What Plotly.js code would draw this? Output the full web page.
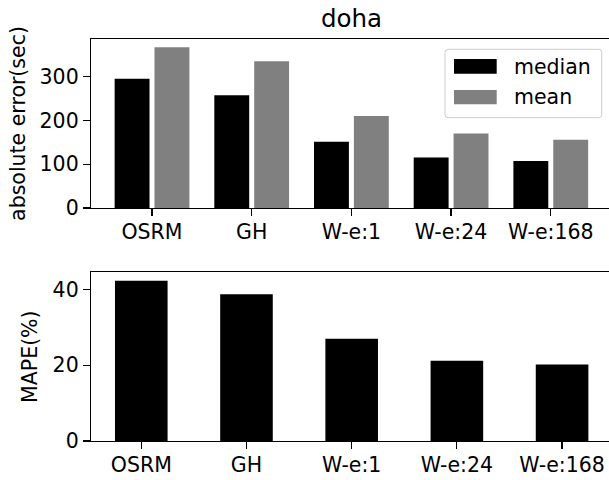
<!DOCTYPE html>
<html>
<head>
<meta charset="utf-8">
<script src="https://cdn.plot.ly/plotly-3.0.1.min.js"></script>
<style>html,body{margin:0;padding:0;background:#fff;overflow:hidden;}#chart{width:609px;height:480px;}</style>
</head>
<body>
<div id="chart"></div>
<script>
// ---- data ----
const categories = ['OSRM', 'GH', 'W-e:1', 'W-e:24', 'W-e:168'];
const medianErr = [295, 257, 151, 115, 107];
const meanErr = [367, 335, 210, 170, 156];
const mape = [42.3, 38.7, 27.0, 21.2, 20.2];
const seriesNames = ['median', 'mean'];
const chartTitle = 'doha';
const topYLabel = 'absolute error(sec)';
const bottomYLabel = 'MAPE(%)';

// ---- layout helpers ----
const W = 609, H = 480, ML = 91, MR = 0, MT = 39, MB = 39;
const PW = W - ML - MR, PH = H - MT - MB;
const px = x => (x - ML) / PW;
const py = y => (H - MB - y) / PH;
const FONT = 'DejaVu Sans';
const FS = 20.5;

function roundedRect(x0p, y0p, x1p, y1p, r) {
  const X0 = px(x0p), X1 = px(x1p), Y0 = py(y1p), Y1 = py(y0p);
  const rx = r / PW, ry = r / PH;
  return `M${X0 + rx},${Y0} L${X1 - rx},${Y0} Q${X1},${Y0} ${X1},${Y0 + ry} ` +
         `L${X1},${Y1 - ry} Q${X1},${Y1} ${X1 - rx},${Y1} ` +
         `L${X0 + rx},${Y1} Q${X0},${Y1} ${X0},${Y1 - ry} ` +
         `L${X0},${Y0 + ry} Q${X0},${Y0} ${X0 + rx},${Y0} Z`;
}

const traces = [
  {type: 'bar', x: categories, y: medianErr, name: seriesNames[0], xaxis: 'x', yaxis: 'y',
   width: 0.35, offset: -0.375, marker: {color: '#000000', line: {width: 0}}},
  {type: 'bar', x: categories, y: meanErr, name: seriesNames[1], xaxis: 'x', yaxis: 'y',
   width: 0.35, offset: 0.025, marker: {color: '#808080', line: {width: 0}}},
  {type: 'bar', x: categories, y: mape, name: 'MAPE', xaxis: 'x2', yaxis: 'y2',
   width: 0.5, offset: -0.25, marker: {color: '#000000', line: {width: 0}}, showlegend: false}
];

const axBase = {
  showline: true, linecolor: '#000', linewidth: 1.2, showgrid: false, zeroline: false,
  ticks: 'outside', ticklen: 7, tickwidth: 1.2, tickcolor: '#000',
  tickfont: {family: FONT, size: FS, color: '#000'}
};

const layout = {
  width: W, height: H,
  margin: {l: ML, r: MR, t: MT, b: MB, pad: 0},
  paper_bgcolor: '#fff', plot_bgcolor: '#fff',
  showlegend: false,
  barmode: 'overlay',
  font: {family: FONT, color: '#000'},
  title: {text: chartTitle, font: {family: FONT, size: 24.5, color: '#000'},
          xref: 'container', x: 351.5 / W, xanchor: 'center',
          yref: 'container', y: 1 - 18.7 / H, yanchor: 'middle'},
  xaxis: Object.assign({}, axBase, {type: 'category', range: [-0.612, 4.584], mirror: true,
          domain: [0, 1], anchor: 'y', ticklabelstandoff: -2}),
  yaxis: Object.assign({}, axBase, {range: [0, 385.6], dtick: 100, tick0: 0, domain: [py(208), 1],
          anchor: 'x', title: {text: topYLabel, font: {family: FONT, size: FS, color: '#000'}, standoff: 8}}),
  xaxis2: Object.assign({}, axBase, {type: 'category', range: [-0.478, 4.446], mirror: true,
          domain: [0, 1], anchor: 'y2', ticklabelstandoff: -2}),
  yaxis2: Object.assign({}, axBase, {range: [0, 44.5], dtick: 20, tick0: 0, domain: [0, py(272.3)],
          anchor: 'x2', title: {text: bottomYLabel, font: {family: FONT, size: FS, color: '#000'}, standoff: 9}}),
  shapes: [
    {type: 'path', xref: 'paper', yref: 'paper', path: roundedRect(445, 49.3, 601.7, 117.7, 3),
     line: {color: '#cccccc', width: 1}, fillcolor: 'rgba(255,255,255,0.8)', layer: 'above'},
    {type: 'rect', xref: 'paper', yref: 'paper', x0: px(454), x1: px(496.7), y0: py(73.7), y1: py(59),
     line: {width: 0}, fillcolor: '#000000', layer: 'above'},
    {type: 'rect', xref: 'paper', yref: 'paper', x0: px(454), x1: px(496.7), y0: py(104.3), y1: py(90),
     line: {width: 0}, fillcolor: '#808080', layer: 'above'}
  ],
  annotations: [
    {xref: 'paper', yref: 'paper', x: px(512), y: py(67.1), xanchor: 'left', yanchor: 'middle',
     text: seriesNames[0], showarrow: false, font: {family: FONT, size: FS, color: '#000'}},
    {xref: 'paper', yref: 'paper', x: px(512), y: py(96.8), xanchor: 'left', yanchor: 'middle',
     text: seriesNames[1], showarrow: false, font: {family: FONT, size: FS, color: '#000'}}
  ]
};

Plotly.newPlot('chart', traces, layout, {displayModeBar: false, staticPlot: true});
</script>
</body>
</html>
